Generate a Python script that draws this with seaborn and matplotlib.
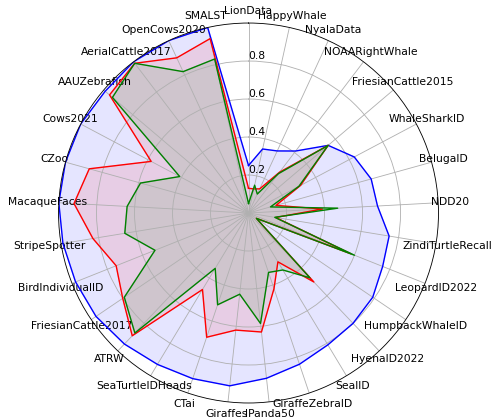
import numpy as np
import pandas as pd
import matplotlib
matplotlib.use("Agg")
import matplotlib.pyplot as plt
import seaborn as sns

# Datasets in clockwise order, starting at the top
datasets = ["LionData", "HappyWhale", "NyalaData", "NOAARightWhale", "FriesianCattle2015",
            "WhaleSharkID", "BelugaID", "NDD20", "ZindiTurtleRecall", "LeopardID2022",
            "HumpbackWhaleID", "HyenaID2022", "SealID", "GiraffeZebraID", "IPanda50",
            "Giraffes", "CTai", "SeaTurtleIDHeads", "ATRW", "FriesianCattle2017",
            "BirdIndividualID", "StripeSpotter", "MacaqueFaces", "CZoo", "Cows2021",
            "AAUZebrafish", "AerialCattle2017", "OpenCows2020", "SMALST"]

blue_scores = [0.25, 0.345, 0.36, 0.41, 0.55, 0.63, 0.67, 0.68, 0.75, 0.76,
               0.79, 0.80, 0.81, 0.84, 0.875, 0.915, 0.92, 0.93, 0.95, 0.97,
               0.98, 0.99, 1.0, 1.0, 1.0, 0.99, 1.0, 1.0, 1.0]
red_scores = [0.13, 0.13, 0.14, 0.27, 0.55, 0.31, 0.15, 0.39, 0.145, 0.58,
              0.05, 0.50, 0.30, 0.42, 0.63, 0.62, 0.69, 0.47, 0.89, 0.80,
              0.75, 0.83, 0.92, 0.87, 0.58, 0.96, 0.99, 0.90, 0.94]
green_scores = [0.05, 0.15, 0.11, 0.26, 0.55, 0.30, 0.12, 0.47, 0.14, 0.60,
                0.05, 0.47, 0.35, 0.33, 0.585, 0.43, 0.51, 0.34, 0.87, 0.79,
                0.53, 0.66, 0.64, 0.59, 0.41, 0.94, 0.99, 0.82, 0.83]

n = len(datasets)
angles = np.linspace(0, 2 * np.pi, n, endpoint=False)

fig = plt.figure(figsize=(493 / 77, 418 / 77), dpi=77)
ax = fig.add_axes([0.1187, 0.0359, 0.7708, 0.909], projection="polar")
ax.set_theta_offset(np.pi / 2)
ax.set_theta_direction(-1)

for scores, col in [(blue_scores, "blue"), (red_scores, "red"), (green_scores, "green")]:
    df = pd.DataFrame({"angle": np.append(angles, 2 * np.pi),
                       "score": scores + scores[:1]})
    sns.lineplot(data=df, x="angle", y="score", sort=False, color=col,
                 linewidth=1.3, ax=ax, legend=False)
    ax.fill(df["angle"], df["score"], color=col, alpha=0.1)

ax.set_xticks(angles)
ax.set_xticklabels(datasets)
ax.tick_params(axis="x", pad=0.5)
ax.set_ylim(0, 1)
ax.set_yticks([0.2, 0.4, 0.6, 0.8])
ax.set_rlabel_position(0)
ax.set_xlabel("")
ax.set_ylabel("")

plt.savefig("out.png", dpi=77)
